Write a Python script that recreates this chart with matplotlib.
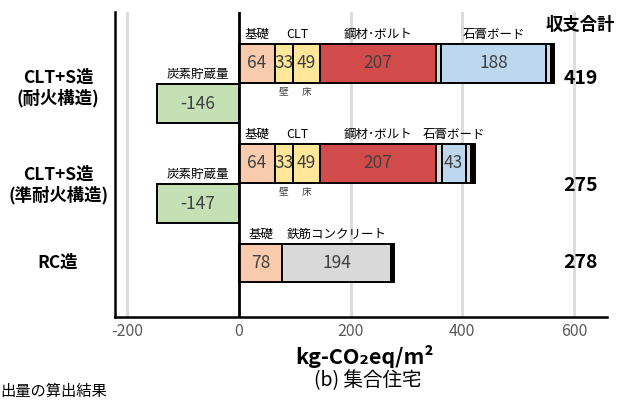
import numpy as np
import matplotlib
matplotlib.use("Agg")
import matplotlib.pyplot as plt
import matplotlib.transforms as mtransforms

plt.rcParams['font.family'] = ['Noto Sans CJK JP', 'DejaVu Sans']

# data
categories = ["CLT+S造\n(耐火構造)", "CLT+S造\n(準耐火構造)", "RC造"]
totals = [419, 275, 278]
carbon = [-146, -147]

# emission stacks
stack_fire = [64, 33, 49, 207, 9, 188, 9, 6]
stack_semi = [64, 33, 49, 207, 10, 43, 10, 4, 2]
stack_rc = [78, 194, 2, 4]

c_base = "#F8CBAD"
c_clt = "#FFE699"
c_steel = "#D24B4B"
c_gray = "#D9D9D9"
c_gyp = "#BDD7EE"
c_carbon = "#C5E0B4"
colors_fire = [c_base, c_clt, c_clt, c_steel, c_gray, c_gyp, c_gray, "black"]
colors_semi = [c_base, c_clt, c_clt, c_steel, c_gray, c_gyp, c_gray, "black", "#F4B183"]
colors_rc = [c_base, c_gray, "#9090C0", "black"]

show_fire = [True, True, True, True, False, True, False, False]
show_semi = [True, True, True, True, False, True, False, False, False]
show_rc = [True, True, False, False]

above_fire = {0: "基礎", 3: "鋼材･ボルト", 5: "石膏ボード"}
above_semi = {0: "基礎", 3: "鋼材･ボルト", 5: "石膏ボード"}
above_rc = {0: "基礎", 1: "鉄筋コンクリート"}

fig = plt.figure(figsize=(6.18, 4.01), dpi=100)
ax = fig.add_axes([0.186, 0.2095, 0.796, 0.7605])

ax.set_xlim(-222, 659)
ax.set_ylim(2.54, -0.51)

ax.set_xticks([-200, 0, 200, 400, 600])
ax.set_xticklabels(["-200", "0", "200", "400", "600"])
ax.tick_params(axis='x', length=0, labelsize=11.5, labelcolor="#595959", pad=4)
ax.set_yticks([])
for x in [-200, 200, 400, 600]:
    ax.axvline(x, color="#D9D9D9", lw=2, zorder=0)
ax.axvline(0, color="black", lw=2, zorder=3)

for s in ["top", "right"]:
    ax.spines[s].set_visible(False)
ax.spines["left"].set_linewidth(1.8)
ax.spines["bottom"].set_linewidth(1.8)

h = 0.39
ytxt = "#404040"


def draw_stack(y, vals, cols, show, above):
    left = 0
    for i, (v, c) in enumerate(zip(vals, cols)):
        ax.barh(y, v, left=left, height=h, color=c, edgecolor="black", lw=1.4, zorder=2)
        if show[i]:
            ax.text(left + v / 2, y, str(v), ha="center", va="center",
                    fontsize=12.5, color=ytxt, zorder=4)
        if i in above:
            ax.text(left + v / 2, y - h / 2 - 0.03, above[i], ha="center", va="bottom",
                    fontsize=9, color="black", zorder=4)
        left += v
    return left


draw_stack(0, stack_fire, colors_fire, show_fire, above_fire)
draw_stack(1, stack_semi, colors_semi, show_semi, above_semi)
draw_stack(2, stack_rc, colors_rc, show_rc, above_rc)

# CLT labels, 壁 / 床
for y in [0, 1]:
    ax.text(105, y - h / 2 - 0.03, "CLT", ha="center", va="bottom", fontsize=9)
    ax.text(80, y + h / 2 + 0.04, "壁", ha="center", va="top", fontsize=7, color="#404040")
    ax.text(121, y + h / 2 + 0.04, "床", ha="center", va="top", fontsize=7, color="#404040")

# carbon storage
for i, v in enumerate(carbon):
    y = i + 0.405
    ax.barh(y, v, height=h, color=c_carbon, edgecolor="black", lw=1.4, zorder=2)
    ax.text(v / 2, y, str(v), ha="center", va="center", fontsize=12.5, color=ytxt, zorder=4)
    ax.text(v / 2, y - h / 2 - 0.03, "炭素貯蔵量", ha="center", va="bottom", fontsize=9, zorder=4)

# totals
ax.text(612, -0.38, "収支合計", ha="center", va="center", fontsize=12.5, fontweight="bold", clip_on=False)
for y, t in zip([0.15, 1.22, 2.0], totals):
    ax.text(612, y, str(t), ha="center", va="center", fontsize=14, fontweight="bold")

# category labels
trans = mtransforms.blended_transform_factory(fig.transFigure, ax.transData)
for y, lab in zip([0.25, 1.22, 1.995], categories):
    ax.text(0.094, y, lab, transform=trans, ha="center", va="center",
            fontsize=12.5, fontweight="bold", linespacing=1.1, clip_on=False)

fig.text(0.589, 0.112, "kg-CO₂eq/m²", ha="center", va="center", fontsize=15.5, fontweight="bold")
fig.text(0.595, 0.05, "(b) 集合住宅", ha="center", va="center", fontsize=14)
fig.text(0.0, 0.002, "出量の算出結果", ha="left", va="bottom", fontsize=11)

fig.savefig("out.png", dpi=100)
